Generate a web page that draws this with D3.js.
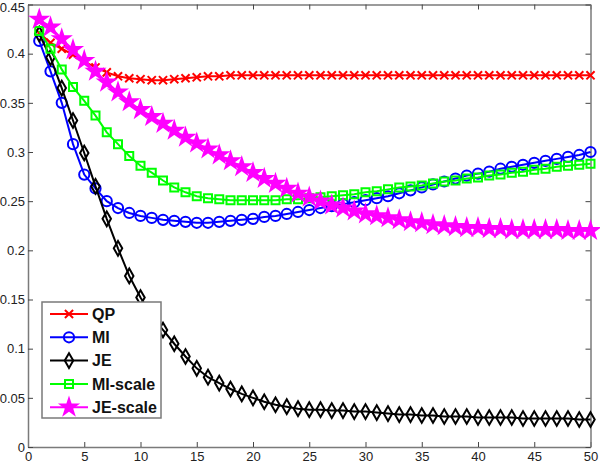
<!DOCTYPE html>
<html>
<head>
<meta charset="utf-8">
<script src="https://cdn.jsdelivr.net/npm/d3@7"></script>
<style>
  body { margin: 0; background: #fff; }
  svg { display: block; font-family: "Liberation Sans", Arial, sans-serif; }
</style>
</head>
<body>
<div id="chart"></div>
<script>
const width = 600;
const height = 464;

// iteration index 1..50
const iters = d3.range(1, 51);

const qp = [0.421, 0.411, 0.405, 0.399, 0.392, 0.386, 0.381, 0.377, 0.375, 0.374,
            0.373, 0.373, 0.374, 0.375, 0.376, 0.377, 0.377, 0.378, 0.378, 0.378,
            0.378, 0.378, 0.378, 0.378, 0.378, 0.378, 0.378, 0.378, 0.378, 0.378,
            0.378, 0.378, 0.378, 0.378, 0.378, 0.378, 0.378, 0.378, 0.378, 0.378,
            0.378, 0.378, 0.378, 0.378, 0.378, 0.378, 0.378, 0.378, 0.378, 0.378];

const mi = [0.413, 0.382, 0.350, 0.308, 0.277, 0.263, 0.250, 0.243, 0.238, 0.235,
            0.233, 0.231, 0.230, 0.229, 0.228, 0.228, 0.229, 0.230, 0.231, 0.232,
            0.234, 0.235, 0.237, 0.239, 0.241, 0.243, 0.245, 0.247, 0.249, 0.251,
            0.253, 0.255, 0.258, 0.261, 0.264, 0.267, 0.270, 0.273, 0.276, 0.278,
            0.280, 0.283, 0.285, 0.287, 0.289, 0.291, 0.293, 0.295, 0.297, 0.300];

const je = [0.420, 0.396, 0.365, 0.332, 0.299, 0.265, 0.232, 0.202, 0.174, 0.152,
            0.134, 0.119, 0.105, 0.092, 0.080, 0.071, 0.065, 0.059, 0.054, 0.050,
            0.046, 0.043, 0.041, 0.039, 0.038, 0.038, 0.037, 0.037, 0.036, 0.036,
            0.035, 0.034, 0.033, 0.033, 0.032, 0.032, 0.031, 0.031, 0.031, 0.030,
            0.030, 0.030, 0.030, 0.029, 0.029, 0.029, 0.029, 0.029, 0.028, 0.028];

const miScale = [0.423, 0.405, 0.384, 0.366, 0.352, 0.337, 0.320, 0.308, 0.296, 0.286,
                 0.279, 0.271, 0.264, 0.259, 0.255, 0.253, 0.252, 0.251, 0.251, 0.251,
                 0.251, 0.251, 0.252, 0.252, 0.253, 0.254, 0.255, 0.256, 0.257, 0.259,
                 0.260, 0.262, 0.264, 0.265, 0.266, 0.268, 0.270, 0.271, 0.273, 0.274,
                 0.276, 0.277, 0.279, 0.280, 0.282, 0.283, 0.285, 0.286, 0.287, 0.288];

const jeScale = [0.435, 0.427, 0.415, 0.404, 0.393, 0.382, 0.371, 0.361, 0.351, 0.343,
                 0.336, 0.329, 0.322, 0.315, 0.309, 0.303, 0.297, 0.291, 0.285, 0.279,
                 0.273, 0.268, 0.263, 0.258, 0.254, 0.250, 0.246, 0.243, 0.240, 0.237,
                 0.235, 0.233, 0.231, 0.229, 0.228, 0.226, 0.225, 0.224, 0.223, 0.223,
                 0.222, 0.222, 0.221, 0.221, 0.221, 0.221, 0.221, 0.220, 0.220, 0.220];

const xTicks = [0, 5, 10, 15, 20, 25, 30, 35, 40, 45, 50];
const yTicks = [0, 0.05, 0.1, 0.15, 0.2, 0.25, 0.3, 0.35, 0.4, 0.45];

const series = [
  { name: "QP", values: qp, color: "#ff0000", symbol: d3.symbolTimes, size: 45, fill: "none" },
  { name: "MI", values: mi, color: "#0000ff", symbol: d3.symbolCircle, size: 82, fill: "none" },
  { name: "JE", values: je, color: "#000000", symbol: d3.symbolDiamond, size: 62, fill: "none" },
  { name: "MI-scale", values: miScale, color: "#00ff00", symbol: d3.symbolSquare, size: 64, fill: "none" },
  { name: "JE-scale", values: jeScale, color: "#ff00ff", symbol: d3.symbolStar, size: 80, fill: "#ff00ff" }
];

const margin = { top: 4.5, right: 9.5, bottom: 17, left: 28 };

const x = d3.scaleLinear().domain([0, 50]).range([margin.left, width - margin.right]);
const y = d3.scaleLinear().domain([0, 0.45]).range([height - margin.bottom, margin.top]);

const svg = d3.select("#chart").append("svg")
  .attr("width", width)
  .attr("height", height);

const fmt = d => String(+d.toFixed(2));
const axisColor = "#7a7a7a";

// axes, ticks pointing inward
svg.append("g")
  .attr("transform", `translate(0,${y(0)})`)
  .call(d3.axisBottom(x).tickValues(xTicks).tickSizeInner(-5).tickSizeOuter(0).tickPadding(5).tickFormat(fmt));
svg.append("g")
  .attr("transform", `translate(0,${y(0.45)})`)
  .call(d3.axisTop(x).tickValues(xTicks).tickSizeInner(-5).tickSizeOuter(0).tickFormat(""));
const yAxis = svg.append("g")
  .attr("transform", `translate(${x(0)},0)`)
  .call(d3.axisLeft(y).tickValues(yTicks).tickSizeInner(-5).tickSizeOuter(0).tickPadding(3).tickFormat(fmt));
svg.append("g")
  .attr("transform", `translate(${x(50)},0)`)
  .call(d3.axisRight(y).tickValues(yTicks).tickSizeInner(-5).tickSizeOuter(0).tickFormat(""));

svg.selectAll(".domain").attr("stroke", axisColor).attr("stroke-width", 1.5);
svg.selectAll(".tick line").attr("stroke", "#444");
svg.selectAll(".tick text").attr("font-size", 13).attr("fill", "#222")
  .attr("font-family", "'Liberation Sans', Arial, sans-serif");

// keep the top label inside the page
yAxis.selectAll(".tick text").filter(d => d === 0.45).attr("y", 2.5);

const line = d3.line()
  .x((d, i) => x(iters[i]))
  .y(d => y(d));

series.forEach(s => {
  const g = svg.append("g");
  g.append("path")
    .attr("d", line(s.values))
    .attr("fill", "none")
    .attr("stroke", s.color)
    .attr("stroke-width", 2);
  g.selectAll("path.mk")
    .data(s.values)
    .enter()
    .append("path")
    .attr("class", "mk")
    .attr("d", d3.symbol(s.symbol, s.size))
    .attr("transform", (d, i) => `translate(${x(iters[i])},${y(d)})`)
    .attr("fill", s.fill)
    .attr("stroke", s.color)
    .attr("stroke-width", 2);
});

// legend
const legend = svg.append("g").attr("transform", "translate(42,302)");
legend.append("rect")
  .attr("width", 119)
  .attr("height", 116)
  .attr("fill", "#fff")
  .attr("stroke", axisColor)
  .attr("stroke-width", 1.5);

const item = legend.selectAll("g.item")
  .data(series)
  .enter()
  .append("g")
  .attr("class", "item")
  .attr("transform", (d, i) => `translate(0,${12 + i * 23.3})`);

item.append("line")
  .attr("x1", 8).attr("x2", 46)
  .attr("stroke", d => d.color)
  .attr("stroke-width", 2);
item.append("path")
  .attr("d", d => d3.symbol(d.symbol, d.size)())
  .attr("transform", "translate(27,0)")
  .attr("fill", d => d.fill)
  .attr("stroke", d => d.color)
  .attr("stroke-width", 2);
item.append("text")
  .attr("x", 50)
  .attr("dy", "0.36em")
  .attr("font-size", 16)
  .attr("font-weight", "bold")
  .attr("fill", "#111")
  .text(d => d.name);
</script>
</body>
</html>
